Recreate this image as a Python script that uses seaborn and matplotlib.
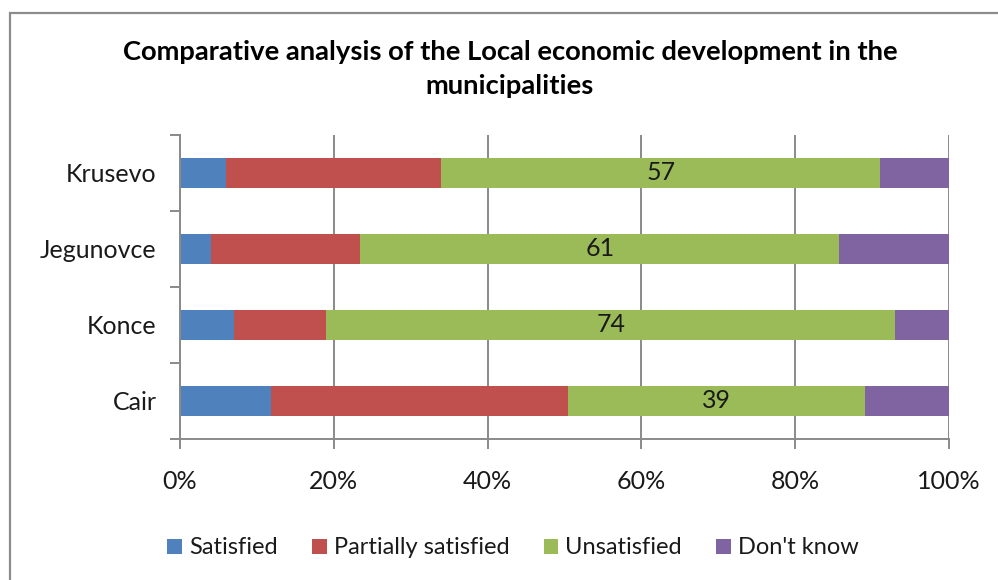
import matplotlib
matplotlib.use("Agg")
import matplotlib.pyplot as plt
from matplotlib.patches import Rectangle, Patch
import numpy as np
import pandas as pd
import seaborn as sns

# Survey answers per municipality (number of respondents)
municipalities = ["Krusevo", "Jegunovce", "Konce", "Cair"]
satisfied = [6, 4, 7, 12]
partially_satisfied = [28, 19, 12, 39]
unsatisfied = [57, 61, 74, 39]
dont_know = [9, 14, 7, 11]

series_names = ["Satisfied", "Partially satisfied", "Unsatisfied", "Don't know"]
series_colors = ["#4F81BD", "#C0504D", "#9BBB59", "#8064A2"]
x_ticks = [0, 20, 40, 60, 80, 100]
x_tick_labels = ["0%", "20%", "40%", "60%", "80%", "100%"]

sns.set_theme(style="white")
plt.rcParams["font.family"] = ["Lato", "DejaVu Sans"]

df = pd.DataFrame({
    "Municipality": municipalities,
    "Satisfied": satisfied,
    "Partially satisfied": partially_satisfied,
    "Unsatisfied": unsatisfied,
    "Don't know": dont_know,
})
counts = df[series_names].to_numpy(dtype=float)
shares = counts / counts.sum(axis=1, keepdims=True) * 100
cum = np.cumsum(shares, axis=1)

W, H = 998, 580
TEXT = "#1a1a1a"
fig = plt.figure(figsize=(W / 100, H / 100), dpi=100)
ax = fig.add_axes([180 / W, 1 - 439 / H, (949 - 180) / W, (439 - 134.7) / H])

# Stacked 100% bars: draw the cumulative totals from the longest to the shortest
for i in reversed(range(len(series_names))):
    sns.barplot(x=cum[:, i], y=df["Municipality"], orient="h", color=series_colors[i],
                width=0.4, saturation=1, ax=ax, zorder=3, linewidth=0)

# Value labels on the "Unsatisfied" segment
for row, name in enumerate(municipalities):
    left = cum[row, 1]
    mid = left + shares[row, 2] / 2
    ax.text(mid, row, f"{unsatisfied[row]:g}", ha="center", va="center",
            fontsize=18, color=TEXT, zorder=5)

ax.set_xlim(0, 100)
ax.set_ylim(3.5, -0.5)
ax.set_xlabel("")
ax.set_ylabel("")

grey = "#8a8a8a"
ax.set_xticks(x_ticks)
ax.set_xticklabels(x_tick_labels, fontsize=18, color=TEXT)
ax.xaxis.grid(True, color=grey, linewidth=1.4, zorder=0)
ax.yaxis.grid(False)

# Category labels sit between the tick marks placed at the band edges
ax.set_yticks(np.arange(len(municipalities) + 1) - 0.5)
ax.set_yticklabels([])
ax.set_yticks(np.arange(len(municipalities)), minor=True)
ax.set_yticklabels(municipalities, minor=True, fontsize=18, color=TEXT)
ax.tick_params(axis="y", which="major", direction="out", length=7, width=1.4, color=grey, left=True)
ax.tick_params(axis="y", which="minor", length=0, pad=17)
ax.tick_params(axis="x", which="major", direction="out", length=7, width=1.4, color=grey,
               bottom=True, pad=15)

for side in ["top", "right"]:
    ax.spines[side].set_visible(False)
for side in ["left", "bottom"]:
    ax.spines[side].set_color(grey)
    ax.spines[side].set_linewidth(1.4)
    ax.spines[side].set_zorder(4)

# Title
fig.text(510 / W, 1 - 60 / H, "Comparative analysis of the Local economic development in the",
         ha="center", va="baseline", fontsize=19.7, fontweight="bold", color="#000000")
fig.text(510 / W, 1 - 94 / H, "municipalities",
         ha="center", va="baseline", fontsize=19.7, fontweight="bold", color="#000000")

# Legend
handles = [Patch(facecolor=c, edgecolor="none") for c in series_colors]
leg = fig.legend(handles, series_names, loc="center", bbox_to_anchor=(513 / W, 1 - 548 / H),
                 ncol=4, frameon=False, fontsize=17, handlelength=0.62, handleheight=0.62,
                 handletextpad=0.3, columnspacing=1.45, borderaxespad=0)
for t in leg.get_texts():
    t.set_color(TEXT)

# Chart area frame, open to the right and bottom edges
fig.add_artist(Rectangle((9.5 / W, -0.1), 2, 1.1 - 12.7 / H, transform=fig.transFigure,
                         facecolor="none", edgecolor="#8c8c8c", linewidth=1.6, clip_on=False))

fig.savefig("out.png", dpi=100)
